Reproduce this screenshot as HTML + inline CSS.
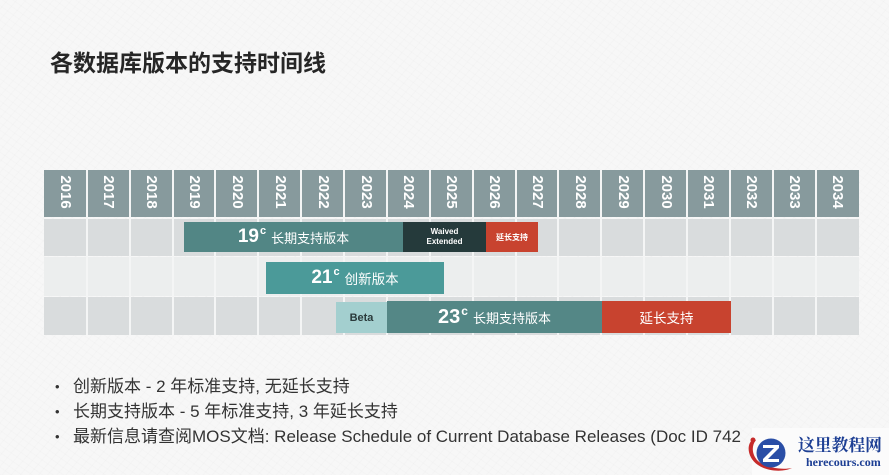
<!DOCTYPE html>
<html>
<head>
<meta charset="utf-8">
<style>
html,body{margin:0;padding:0;}
body{width:889px;height:475px;overflow:hidden;position:relative;background:#f6f6f6;font-family:"Liberation Sans","Noto Sans CJK SC",sans-serif;}
.bg{position:absolute;left:0;top:0;width:889px;height:475px;background:
 repeating-linear-gradient(35deg,rgba(0,0,0,0.012) 0 1px,transparent 1px 6px),
 repeating-linear-gradient(-50deg,rgba(0,0,0,0.01) 0 1px,transparent 1px 7px),#f7f7f7;}
.title{position:absolute;left:50px;top:45px;font-size:23px;line-height:32px;font-weight:bold;color:#262626;font-family:"Noto Sans CJK SC","Liberation Sans",sans-serif;letter-spacing:0px;}
.abs{position:absolute;}
.hdr{left:44px;top:170px;width:815px;height:47px;background:#879a9d;}
.r1{left:44px;top:219px;width:815px;height:37px;background:#d9dcdd;}
.r2{left:44px;top:257px;width:815px;height:39px;background:#eceeee;}
.r3{left:44px;top:297px;width:815px;height:38px;background:#d9dcdd;}
.vl{position:absolute;top:170px;height:165px;width:2px;background:#f4f5f5;}
.yr{position:absolute;top:192px;width:40px;height:18px;margin-left:-20px;margin-top:-9px;text-align:center;color:#fff;font-weight:bold;font-size:15px;line-height:18px;transform:rotate(90deg);}
.bar{position:absolute;display:flex;align-items:center;justify-content:center;color:#fff;white-space:nowrap;}
.big{font-weight:bold;font-family:"Liberation Sans",sans-serif;}
.sup{font-weight:bold;font-size:11px;position:relative;top:-6px;margin-left:1px;margin-right:5px;font-family:"Liberation Sans",sans-serif;}
.cn{font-family:"Noto Sans CJK SC","Liberation Sans",sans-serif;font-size:13px;}
.bul{position:absolute;left:55px;font-size:17px;line-height:25px;color:#333;white-space:nowrap;}
.bul span.d{position:absolute;left:0;top:0;font-size:13px;}
.bul span.t{position:absolute;left:18px;top:0;font-family:"Liberation Sans","Noto Sans CJK SC",sans-serif;}
</style>
</head>
<body>
<div class="bg"></div>
<div class="title">各数据库版本的支持时间线</div>

<div class="abs hdr"></div>
<div class="abs r1"></div>
<div class="abs r2"></div>
<div class="abs r3"></div>

<!-- vertical grid lines -->
<div class="vl" style="left:85.9px"></div>
<div class="vl" style="left:128.7px"></div>
<div class="vl" style="left:171.6px"></div>
<div class="vl" style="left:214.4px"></div>
<div class="vl" style="left:257.3px"></div>
<div class="vl" style="left:300.2px"></div>
<div class="vl" style="left:343px"></div>
<div class="vl" style="left:385.9px"></div>
<div class="vl" style="left:428.7px"></div>
<div class="vl" style="left:471.6px"></div>
<div class="vl" style="left:514.5px"></div>
<div class="vl" style="left:557.3px"></div>
<div class="vl" style="left:600.2px"></div>
<div class="vl" style="left:643px"></div>
<div class="vl" style="left:685.9px"></div>
<div class="vl" style="left:728.8px"></div>
<div class="vl" style="left:771.6px"></div>
<div class="vl" style="left:814.5px"></div>

<!-- years -->
<div class="yr" style="left:65.4px">2016</div>
<div class="yr" style="left:108.3px">2017</div>
<div class="yr" style="left:151.2px">2018</div>
<div class="yr" style="left:194px">2019</div>
<div class="yr" style="left:236.9px">2020</div>
<div class="yr" style="left:279.7px">2021</div>
<div class="yr" style="left:322.6px">2022</div>
<div class="yr" style="left:365.5px">2023</div>
<div class="yr" style="left:408.3px">2024</div>
<div class="yr" style="left:451.2px">2025</div>
<div class="yr" style="left:494px">2026</div>
<div class="yr" style="left:536.9px">2027</div>
<div class="yr" style="left:579.8px">2028</div>
<div class="yr" style="left:622.6px">2029</div>
<div class="yr" style="left:665.5px">2030</div>
<div class="yr" style="left:708.3px">2031</div>
<div class="yr" style="left:751.2px">2032</div>
<div class="yr" style="left:794.1px">2033</div>
<div class="yr" style="left:836.9px">2034</div>

<!-- row 1: 19c -->
<div class="bar" style="left:184px;top:222px;width:219px;height:30px;background:#528685;">
 <span class="big" style="font-size:19px;">19</span><span class="sup">c</span><span class="cn">长期支持版本</span>
</div>
<div class="bar" style="left:403px;top:222px;width:83px;height:30px;background:#253a3b;flex-direction:column;font-size:8px;font-weight:bold;line-height:10px;">
 <span>Waived</span><span>Extended</span>
</div>
<div class="bar" style="left:486px;top:222px;width:52px;height:30px;background:#c8432f;">
 <span style="font-family:'Noto Sans CJK SC',sans-serif;font-size:8px;font-weight:bold;">延长支持</span>
</div>

<!-- row 2: 21c -->
<div class="bar" style="left:266px;top:262px;width:178px;height:32px;background:#4b9a99;">
 <span class="big" style="font-size:19px;">21</span><span class="sup">c</span><span class="cn" style="font-size:13.5px;">创新版本</span>
</div>

<!-- row 3: 23c -->
<div class="bar" style="left:336px;top:302px;width:51px;height:31px;background:#a3cfcf;color:#2b3b3c;">
 <span style="font-size:11px;font-weight:bold;">Beta</span>
</div>
<div class="bar" style="left:387px;top:301px;width:215px;height:32px;background:#548786;">
 <span class="big" style="font-size:20px;">23</span><span class="sup" style="font-size:12px;top:-6px;">c</span><span class="cn">长期支持版本</span>
</div>
<div class="bar" style="left:602px;top:301px;width:129px;height:32px;background:#c8432f;">
 <span class="cn" style="font-size:13.5px;">延长支持</span>
</div>

<!-- bullets -->
<div class="bul" style="top:374px;"><span class="d">•</span><span class="t">创新版本 - 2 年标准支持, 无延长支持</span></div>
<div class="bul" style="top:399px;"><span class="d">•</span><span class="t">长期支持版本 - 5 年标准支持, 3 年延长支持</span></div>
<div class="bul" style="top:424px;"><span class="d">•</span><span class="t">最新信息请查阅MOS文档: Release Schedule of Current Database Releases (Doc ID 742</span></div>

<!-- watermark logo -->
<div class="abs" style="left:752px;top:428px;width:137px;height:47px;background:#fbfbfb;"></div>
<svg class="abs" style="left:744px;top:428px;" width="60" height="47" viewBox="0 0 60 47">
 <path d="M8 12 C2 18 4 30 14 37 C24 44 40 44 48 40 C38 42 22 40 14 33 C8 27 7 18 12 12 Z" fill="#c62b2b"/>
 <circle cx="9" cy="12" r="2.5" fill="#c62b2b"/>
 <circle cx="27" cy="25" r="14.5" fill="#2a4ea6"/>
 <path d="M19 17 L35 17 L35 20 L24 31 L35 31 L35 34 L19 34 L19 31 L30 20 L19 20 Z" fill="#fff"/>
</svg>
<div class="abs" style="left:798px;top:434px;font-family:'Noto Serif CJK SC','Liberation Serif',serif;font-weight:bold;font-size:16.8px;line-height:20px;color:#1d3f94;white-space:nowrap;">这里教程网</div>
<div class="abs" style="left:806px;top:455px;font-family:'Liberation Serif',serif;font-weight:bold;font-size:12px;line-height:14px;color:#1d3f94;white-space:nowrap;">herecours.com</div>
</body>
</html>
